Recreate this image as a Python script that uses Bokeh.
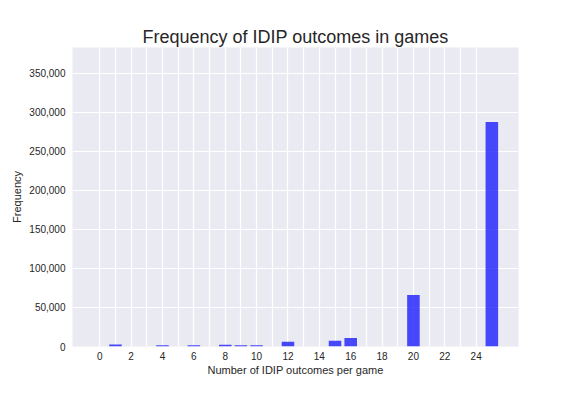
from bokeh.plotting import figure
from bokeh.models import ColumnDataSource, Range1d, FixedTicker, NumeralTickFormatter
from bokeh.embed import file_html
from bokeh.resources import INLINE

# Data
outcomes = [1, 4, 6, 8, 9, 10, 12, 15, 16, 20, 25]
frequency = [2500, 1500, 1500, 2200, 1500, 1500, 6000, 7300, 11000, 66000, 287500]
x_ticks = list(range(0, 25))
x_tick_labels = {t: (str(t) if t % 2 == 0 else "") for t in x_ticks}
y_ticks = [0, 50000, 100000, 150000, 200000, 250000, 300000, 350000]

FONT = "Liberation Sans"
TXT = "#262626"

p = figure(width=576, height=396, output_backend="svg", toolbar_location=None,
           x_range=Range1d(-1.74, 26.7), y_range=Range1d(0, 383000),
           frame_width=446, frame_height=299,
           min_border_left=72, min_border_right=58, min_border_top=47, min_border_bottom=49)

src = ColumnDataSource(dict(x=outcomes, top=frequency))
p.vbar(x="x", top="top", width=0.8, bottom=0, source=src,
       fill_color="blue", fill_alpha=0.7, line_color=None)

p.background_fill_color = "#EAEAF2"
p.border_fill_color = "white"
p.outline_line_color = None

p.title.text = "Frequency of IDIP outcomes in games"
p.title.align = "center"
p.title.text_font = FONT
p.title.text_font_size = "18px"
p.title.text_font_style = "normal"
p.title.text_color = TXT
p.title.standoff = 2

p.xaxis.ticker = FixedTicker(ticks=x_ticks)
p.xaxis.major_label_overrides = x_tick_labels
p.yaxis.ticker = FixedTicker(ticks=y_ticks)
p.yaxis.formatter = NumeralTickFormatter(format="0,0")

p.xaxis.axis_label = "Number of IDIP outcomes per game"
p.yaxis.axis_label = "Frequency"

for ax in (p.xaxis, p.yaxis):
    ax.axis_line_color = None
    ax.major_tick_line_color = None
    ax.minor_tick_line_color = None
    ax.major_tick_out = 0
    ax.major_tick_in = 0
    ax.major_label_text_font = FONT
    ax.major_label_text_font_size = "10px"
    ax.major_label_text_color = TXT
    ax.axis_label_text_font = FONT
    ax.axis_label_text_font_size = "11px"
    ax.axis_label_text_font_style = "normal"
    ax.axis_label_text_color = TXT

p.xaxis.major_label_standoff = 5
p.xaxis.axis_label_standoff = 1
p.yaxis.major_label_standoff = 7
p.yaxis.axis_label_standoff = 3

p.xgrid.grid_line_color = "white"
p.ygrid.grid_line_color = "white"
p.xgrid.grid_line_width = 1.2
p.ygrid.grid_line_width = 1.2

open("out.html", "w").write(file_html(p, INLINE))
